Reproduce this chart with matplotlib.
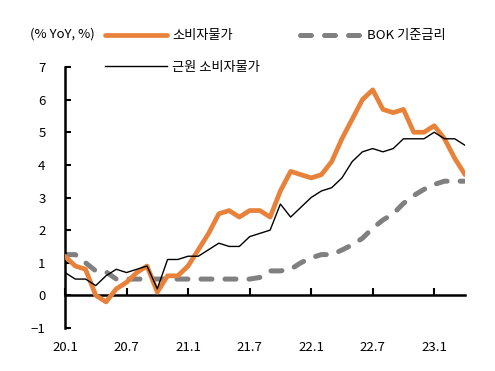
import numpy as np
import matplotlib
matplotlib.use('Agg')
import matplotlib.pyplot as plt

# 글꼴 설정 (한글 + 기호 대체)
plt.rcParams['font.family'] = ['Noto Sans CJK KR', 'DejaVu Sans']

# 월별 데이터 (2020.1 ~ 2023.4)
months = ['20.%d' % m for m in range(1, 13)] + ['21.%d' % m for m in range(1, 13)] + \
         ['22.%d' % m for m in range(1, 13)] + ['23.%d' % m for m in range(1, 5)]

cpi = [1.2, 0.9, 0.8, 0.0, -0.2, 0.2, 0.4, 0.7, 0.9, 0.1, 0.6, 0.6,
       0.9, 1.4, 1.9, 2.5, 2.6, 2.4, 2.6, 2.6, 2.4, 3.2, 3.8, 3.7,
       3.6, 3.7, 4.1, 4.8, 5.4, 6.0, 6.3, 5.7, 5.6, 5.7, 5.0, 5.0,
       5.2, 4.8, 4.2, 3.7]

core_cpi = [0.7, 0.5, 0.5, 0.3, 0.6, 0.8, 0.7, 0.8, 0.9, 0.2, 1.1, 1.1,
            1.2, 1.2, 1.4, 1.6, 1.5, 1.5, 1.8, 1.9, 2.0, 2.8, 2.4, 2.7,
            3.0, 3.2, 3.3, 3.6, 4.1, 4.4, 4.5, 4.4, 4.5, 4.8, 4.8, 4.8,
            5.0, 4.8, 4.8, 4.6]

bok_rate = [1.25, 1.25, 1.0, 0.75, 0.72, 0.5, 0.5, 0.5, 0.5, 0.5, 0.5, 0.5,
            0.5, 0.5, 0.5, 0.5, 0.5, 0.5, 0.5, 0.55, 0.75, 0.75, 0.8, 1.0,
            1.15, 1.25, 1.25, 1.39, 1.55, 1.75, 2.06, 2.31, 2.5, 2.82, 3.06, 3.25,
            3.4, 3.5, 3.5, 3.5]

tick_labels = ['20.1', '20.7', '21.1', '21.7', '22.1', '22.7', '23.1']

x = np.arange(len(months))

fig = plt.figure(figsize=(4.95, 3.71), dpi=100)
ax = fig.add_axes([0.1313, 0.1159, 0.8081, 0.7035])

# 선 그리기
ax.plot(x, bok_rate, color='#808080', linewidth=3.6, dashes=(2.2, 2.6),
        dash_capstyle='round', label='BOK 기준금리', zorder=2)
ax.plot(x, cpi, color='#E8823A', linewidth=3.4, solid_joinstyle='round',
        solid_capstyle='round', label='소비자물가', zorder=3)
ax.plot(x, core_cpi, color='black', linewidth=1.0, label='근원 소비자물가', zorder=4)

ax.set_xlim(0, len(months) - 1)
ax.set_ylim(-1, 7)
ax.set_yticks(range(-1, 8))

# x축 눈금: 6개월 간격
ax.set_xticks([months.index(t) for t in tick_labels])
ax.set_xticklabels(tick_labels)

# 축 모양
ax.spines['top'].set_visible(False)
ax.spines['right'].set_visible(False)
ax.spines['bottom'].set_position(('data', 0))
ax.spines['left'].set_linewidth(1.8)
ax.spines['bottom'].set_linewidth(1.8)
ax.tick_params(axis='y', direction='in', length=4, width=1.5, labelsize=9.5, pad=14)
ax.tick_params(axis='x', direction='in', length=5, width=1.5, labelsize=9.5, pad=33)

# 단위 표시
fig.text(0.06, 0.908, '(% YoY, %)', fontsize=9.5, va='center', ha='left')

# 범례
h, l = ax.get_legend_handles_labels()
order = [1, 2, 0]
fig.legend([h[i] for i in order], [l[i] for i in order], ncol=2,
           loc='upper left', bbox_to_anchor=(0.212, 0.921), frameon=False,
           fontsize=9.5, handlelength=4.7, handletextpad=0.4,
           columnspacing=3.0, labelspacing=1.4, borderpad=0, borderaxespad=0)

fig.savefig('out.png', dpi=100)
